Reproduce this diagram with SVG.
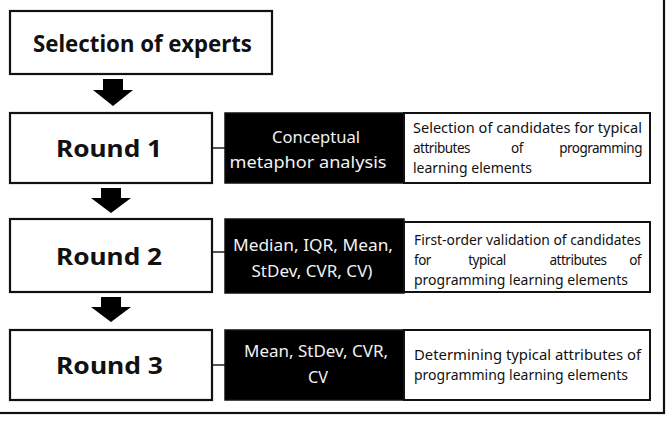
<svg xmlns="http://www.w3.org/2000/svg" width="672" height="421" viewBox="0 0 672 421">
<style>
.box{fill:#fff;stroke:#111;stroke-width:2.2}
.blk{fill:#000;stroke:#111;stroke-width:1.5}
.wbox{fill:#fff;stroke:#111;stroke-width:2}
.lbl{font-family:"Noto Sans","Open Sans",sans-serif;font-weight:bold;font-size:24px;fill:#111}
.wt{font-family:"Noto Sans","Open Sans",sans-serif;font-size:17px;fill:#f2f2f2;text-anchor:middle}
.dt{font-family:"Noto Sans","Open Sans",sans-serif;font-size:13.5px;fill:#111}
.jw{font-family:"Noto Sans","Open Sans",sans-serif;font-size:13.5px;letter-spacing:-0.5px;fill:#111}
.mid{text-anchor:middle}
.end{text-anchor:end}
.arr{fill:#000}
.con{stroke:#555;stroke-width:2;fill:none}
</style>
<rect x="-5" y="-5" width="669" height="418" fill="#fff" stroke="#111" stroke-width="2.2"/>
<g id="connectors">
<polygon class="arr" points="103,79 123,79 123,90 133,90 113,106 93,90 103,90"/>
<polygon class="arr" points="101,188 121,188 121,198 131,198 111,213 91,198 101,198"/>
<polygon class="arr" points="101,297 121,297 121,307 131,307 111,322 91,307 101,307"/>
<line class="con" x1="212" y1="148" x2="225" y2="148"/>
<line class="con" x1="212" y1="252" x2="225" y2="252"/>
<line class="con" x1="212" y1="365" x2="225" y2="365"/>
</g>
<g id="selection">
<rect class="box" x="10" y="11" width="262" height="63"/>
<text class="lbl" x="33" y="52" font-size="25" textLength="219" lengthAdjust="spacingAndGlyphs">Selection of experts</text>
</g>
<g id="round1">
<rect class="box" x="10" y="113" width="202" height="70"/>
<text class="lbl" x="56" y="157" textLength="106" lengthAdjust="spacingAndGlyphs">Round 1</text>
</g>
<g id="method1">
<rect class="blk" x="225" y="113" width="179" height="70"/>
<text class="wt" x="316" y="143" textLength="88" lengthAdjust="spacingAndGlyphs">Conceptual</text>
<text class="wt" x="308" y="168" textLength="157" lengthAdjust="spacingAndGlyphs">metaphor analysis</text>
</g>
<g id="result1">
<rect class="wbox" x="404" y="113" width="246" height="70"/>
<text class="dt" x="413" y="133" textLength="229" lengthAdjust="spacingAndGlyphs">Selection of candidates for typical</text>
<text class="jw" x="413" y="153">attributes</text>
<text class="jw mid" x="517" y="153">of</text>
<text class="jw end" x="642" y="153">programming</text>
<text class="dt" x="413" y="173" textLength="119" lengthAdjust="spacingAndGlyphs">learning elements</text>
</g>
<g id="round2">
<rect class="box" x="10" y="219" width="202" height="73"/>
<text class="lbl" x="56" y="265" textLength="106" lengthAdjust="spacingAndGlyphs">Round 2</text>
</g>
<g id="method2">
<rect class="blk" x="225" y="219" width="179" height="74"/>
<text class="wt" x="313" y="251" textLength="160" lengthAdjust="spacingAndGlyphs">Median, IQR, Mean,</text>
<text class="wt" x="312" y="277" textLength="121" lengthAdjust="spacingAndGlyphs">StDev, CVR, CV)</text>
</g>
<g id="result2">
<rect class="wbox" x="404" y="222" width="246" height="70"/>
<text class="dt" x="414" y="245" textLength="227" lengthAdjust="spacingAndGlyphs">First-order validation of candidates</text>
<text class="jw" x="414" y="265">for</text>
<text class="jw mid" x="487" y="265">typical</text>
<text class="jw mid" x="578" y="265">attributes</text>
<text class="jw end" x="641" y="265">of</text>
<text class="dt" x="414" y="285" textLength="214" lengthAdjust="spacingAndGlyphs">programming learning elements</text>
</g>
<g id="round3">
<rect class="box" x="10" y="330" width="202" height="70"/>
<text class="lbl" x="56" y="374" textLength="107" lengthAdjust="spacingAndGlyphs">Round 3</text>
</g>
<g id="method3">
<rect class="blk" x="225" y="330" width="179" height="70"/>
<text class="wt" x="316" y="357" textLength="144" lengthAdjust="spacingAndGlyphs">Mean, StDev, CVR,</text>
<text class="wt" x="318" y="383" textLength="20" lengthAdjust="spacingAndGlyphs">CV</text>
</g>
<g id="result3">
<rect class="wbox" x="404" y="330" width="246" height="70"/>
<text class="dt" x="414" y="360" textLength="227" lengthAdjust="spacingAndGlyphs">Determining typical attributes of</text>
<text class="dt" x="414" y="380" textLength="214" lengthAdjust="spacingAndGlyphs">programming learning elements</text>
</g>
</svg>
